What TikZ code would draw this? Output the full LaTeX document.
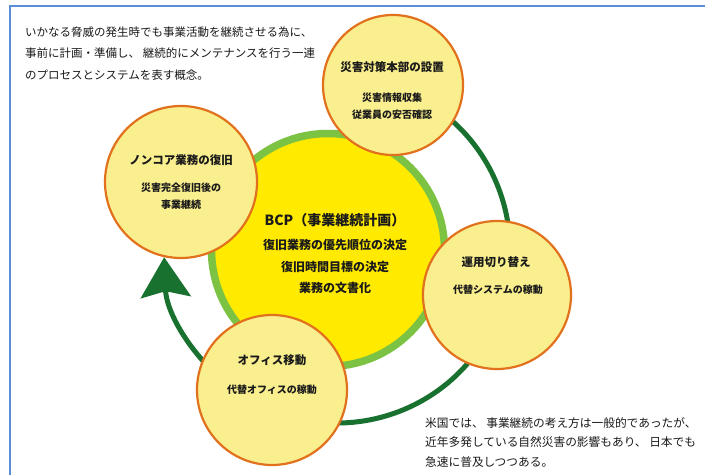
\documentclass[tikz,border=0pt]{standalone}
\usepackage{fontspec}
\setmainfont{Noto Sans CJK JP}
\usetikzlibrary{arrows.meta}
\definecolor{frameblue}{HTML}{5B8DD8}
\definecolor{ringgreen}{HTML}{7CC243}
\definecolor{coreyellow}{HTML}{FFEA00}
\definecolor{satfill}{HTML}{FAEF8E}
\definecolor{satedge}{HTML}{E2711D}
\definecolor{arcgreen}{HTML}{18712F}
\definecolor{ink}{HTML}{1A1A1A}
\tikzset{
  core/.style={circle, inner sep=0pt, fill=coreyellow, draw=ringgreen, line width=7.5pt, minimum size=233pt},
  sat/.style={circle, inner sep=0pt, fill=satfill, draw=satedge, line width=2.2pt},
  ttl/.style={inner sep=0pt, text=ink, font=\fontsize{11.5}{14}\selectfont\bfseries},
  sub/.style={inner sep=0pt, text=ink, align=center, font=\fontsize{10}{17}\selectfont\bfseries},
  coretxt/.style={inner sep=0pt, text=ink, align=center, font=\fontsize{12}{21.5}\selectfont\bfseries},
  note/.style={inner sep=0pt, text=ink, align=left, anchor=west},
  cycle/.style={arcgreen, line width=5pt, -{Stealth[length=40pt, width=50pt, inset=6pt]}}
}
\begin{document}
\begin{tikzpicture}[x=1pt, y=1pt]
\useasboundingbox (0,0) rectangle (705,475);
\fill[white] (0,0) rectangle (705,475);
% frame
\draw[frameblue, line width=2pt] (10,0) -- (10,469) -- (705,469);
% core circle
\node[core] (bcp) at (328,225) {};
% cycle arc
\coordinate (arcc) at (337,225);
\draw[cycle] ([shift={(60:173)}]arcc) arc[start angle=60, end angle=-177.6, radius=173];
% satellites
\node[sat, minimum size=140pt] (hq) at (393,390) {};
\node[sat, minimum size=152pt] (noncore) at (181,293) {};
\node[sat, minimum size=148pt] (switch) at (497,180) {};
\node[sat, minimum size=150pt] (office) at (272,85) {};
% texts
\node[ttl] (hqt) at (392,408) {災害対策本部の設置};
\node[sub] (hqs) at (392,368.5) {災害情報収集\\従業員の安否確認};
\node[ttl] (nct) at (181,315) {ノンコア業務の復旧};
\node[sub] (ncs) at (181,278.5) {災害完全復旧後の\\事業継続};
\node[ttl] (swt) at (496,213) {運用切り替え};
\node[sub] (sws) at (498,185) {代替システムの稼動};
\node[ttl] (oft) at (272,115) {オフィス移動};
\node[sub] (ofs) at (272,85) {代替オフィスの稼動};
\node[inner sep=0pt, text=ink, font=\fontsize{14}{16}\selectfont\bfseries] (bcpt) at (335,255) {BCP（事業継続計画）};
\node[coretxt] (bcps) at (335,208.5) {復旧業務の優先順位の決定\\復旧時間目標の決定\\業務の文書化};
\node[note, font=\fontsize{11.5}{21.5}\selectfont] (intro) at (25,421.5) {いかなる脅威の発生時でも事業活動を継続させる為に、\\事前に計画・準備し、 継続的にメンテナンスを行う一連\\のプロセスとシステムを表す概念。};
\node[note, font=\fontsize{11.7}{19.7}\selectfont] (usnote) at (425,32.5) {米国では、 事業継続の考え方は一般的であったが、\\近年多発している自然災害の影響もあり、 日本でも\\急速に普及しつつある。};
\end{tikzpicture}
\end{document}
